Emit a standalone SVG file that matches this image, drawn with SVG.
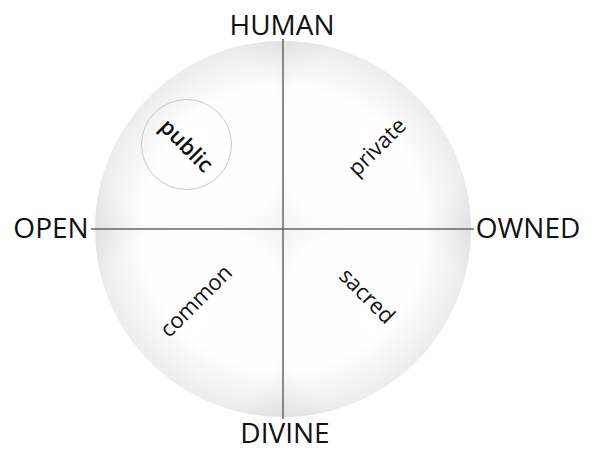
<svg xmlns="http://www.w3.org/2000/svg" width="591" height="450" viewBox="0 0 591 450">
  <style>
    .axis-label { font-family: "Open Sans", "Noto Sans", "Liberation Sans", sans-serif; font-size: 28px; fill: #111; text-anchor: middle; }
    .q-label { font-family: "Open Sans", "Noto Sans", "Liberation Sans", sans-serif; font-size: 22px; fill: #111; text-anchor: middle; }
    .q-bold { font-weight: 600; font-size: 22px; }
    .axis { stroke: #666; stroke-width: 1.5; fill: none; }
    .qstop0 { stop-color: #ffffff; }
    .qstop1 { stop-color: #fefefe; }
    .qstop2 { stop-color: #ebebeb; }
  </style>
  <defs>
    <radialGradient id="gTL" gradientUnits="userSpaceOnUse" cx="193" cy="139" r="155">
      <stop offset="0" class="qstop0"/>
      <stop offset="0.6" class="qstop1"/>
      <stop offset="1" class="qstop2"/>
    </radialGradient>
    <radialGradient id="gTR" gradientUnits="userSpaceOnUse" cx="373" cy="139" r="155">
      <stop offset="0" class="qstop0"/>
      <stop offset="0.6" class="qstop1"/>
      <stop offset="1" class="qstop2"/>
    </radialGradient>
    <radialGradient id="gBL" gradientUnits="userSpaceOnUse" cx="193" cy="319" r="155">
      <stop offset="0" class="qstop0"/>
      <stop offset="0.6" class="qstop1"/>
      <stop offset="1" class="qstop2"/>
    </radialGradient>
    <radialGradient id="gBR" gradientUnits="userSpaceOnUse" cx="373" cy="319" r="155">
      <stop offset="0" class="qstop0"/>
      <stop offset="0.6" class="qstop1"/>
      <stop offset="1" class="qstop2"/>
    </radialGradient>
    <radialGradient id="gRim" gradientUnits="userSpaceOnUse" cx="283" cy="229" r="188">
      <stop offset="0.75" stop-color="#000" stop-opacity="0"/>
      <stop offset="1" stop-color="#000" stop-opacity="0.07"/>
    </radialGradient>
  </defs>
  <rect width="591" height="450" fill="#ffffff"/>

  <g id="quadrant-public">
    <path d="M283,229 L95,229 A188,188 0 0 1 283,41 Z" fill="url(#gTL)"/>
  </g>
  <g id="quadrant-private">
    <path d="M283,229 L283,41 A188,188 0 0 1 471,229 Z" fill="url(#gTR)"/>
  </g>
  <g id="quadrant-common">
    <path d="M283,229 L283,417 A188,188 0 0 1 95,229 Z" fill="url(#gBL)"/>
  </g>
  <g id="quadrant-sacred">
    <path d="M283,229 L471,229 A188,188 0 0 1 283,417 Z" fill="url(#gBR)"/>
  </g>
  <circle cx="283" cy="229" r="188" fill="url(#gRim)"/>

  <g id="label-public">
    <circle cx="186.5" cy="144.5" r="45" fill="none" stroke="#c8c8c8" stroke-width="1"/>
    <text class="q-label q-bold" transform="translate(186,146) rotate(45)" y="7">public</text>
  </g>
  <g id="label-private">
    <text class="q-label" transform="translate(378,148) rotate(-45)" y="6">private</text>
  </g>
  <g id="label-common">
    <text class="q-label" transform="translate(197,302) rotate(-45)" y="6">common</text>
  </g>
  <g id="label-sacred">
    <text class="q-label" transform="translate(366,297) rotate(45)" y="6">sacred</text>
  </g>

  <g id="connectors">
    <line class="axis" x1="91" y1="229" x2="474" y2="229"/>
    <line class="axis" x1="283" y1="39" x2="283" y2="419"/>
  </g>

  <g id="label-human"><text class="axis-label" x="282" y="35">HUMAN</text></g>
  <g id="label-divine"><text class="axis-label" x="285" y="443">DIVINE</text></g>
  <g id="label-open"><text class="axis-label" x="51" y="238">OPEN</text></g>
  <g id="label-owned"><text class="axis-label" x="528" y="238">OWNED</text></g>
</svg>
